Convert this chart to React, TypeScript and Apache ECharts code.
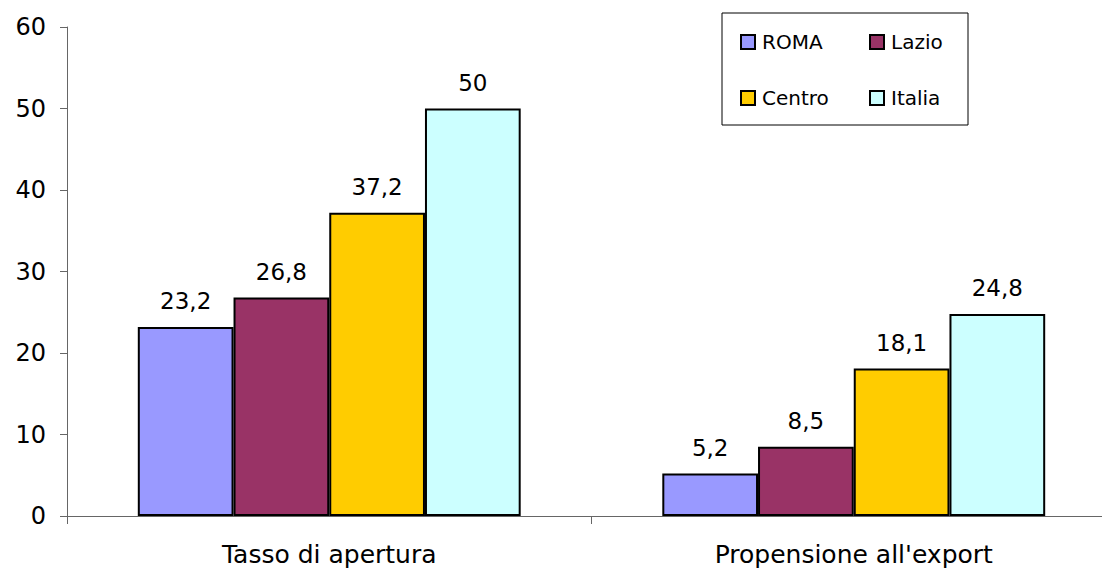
import React, { useEffect, useRef } from "react";
import * as echarts from "echarts";

const categories = ["Tasso di apertura", "Propensione all'export"];
const seriesNames = ["ROMA", "Lazio", "Centro", "Italia"];
const roma = [23.2, 5.2];
const lazio = [26.8, 8.5];
const centro = [37.2, 18.1];
const italia = [50, 24.8];
const yTicks = [0, 10, 20, 30, 40, 50, 60];
const colors = ["#9999FF", "#993366", "#FFCC00", "#CCFFFF"];

const FONT = "DejaVu Sans";

export default function App() {
  const ref = useRef<HTMLDivElement>(null);
  useEffect(() => {
    if (!ref.current) return;
    const chart = echarts.init(ref.current, undefined, { renderer: "svg" });
    const values = [roma, lazio, centro, italia];
    const legendCommon = {
      orient: "horizontal" as const,
      padding: 0,
      itemGap: 0,
      itemWidth: 14,
      itemHeight: 14,
      icon: "rect",
      textStyle: {
        fontFamily: FONT,
        fontSize: 20,
        color: "#000",
        width: 107,
        lineHeight: 20,
        padding: [0, 0, 0, 2],
      },
    };
    chart.setOption({
      animation: false,
      textStyle: { fontFamily: FONT },
      grid: { left: 67, right: 4, top: 27, bottom: 56, containLabel: false },
      legend: [
        { ...legendCommon, left: 740, top: 32, data: ["ROMA", "Lazio"] },
        { ...legendCommon, left: 740, top: 88, data: ["Centro", "Italia"] },
      ],
      graphic: [
        {
          type: "rect",
          shape: { x: 722, y: 13, width: 246, height: 112 },
          style: { fill: "none", stroke: "#000", lineWidth: 1 },
          z: 10,
        },
      ],
      xAxis: {
        type: "category",
        data: categories,
        axisLine: { lineStyle: { color: "#666", width: 1 } },
        axisTick: { show: true, length: 8, lineStyle: { color: "#666" } },
        axisLabel: { fontSize: 25, color: "#000", margin: 26, fontFamily: FONT },
      },
      yAxis: {
        type: "value",
        min: yTicks[0],
        max: yTicks[yTicks.length - 1],
        interval: 10,
        axisLine: { show: true, lineStyle: { color: "#666", width: 1 } },
        axisTick: { show: true, length: 7, lineStyle: { color: "#666" } },
        splitLine: { show: false },
        axisLabel: { fontSize: 24, color: "#000", margin: 21, fontFamily: FONT },
      },
      series: seriesNames.map((name, i) => ({
        name,
        type: "bar",
        data: values[i],
        barGap: "0%",
        barCategoryGap: "27%",
        itemStyle: { color: colors[i], borderColor: "#000", borderWidth: 2 },
        label: {
          show: true,
          position: "top",
          distance: 14,
          fontSize: 23,
          color: "#000",
          fontFamily: FONT,
          formatter: (p: any) => String(p.value).replace(".", ","),
        },
      })),
    });
    return () => chart.dispose();
  }, []);
  return (
    <div
      ref={ref}
      style={{ position: "fixed", left: 0, top: 0, width: 1120, height: 572, background: "#fff" }}
    />
  );
}
